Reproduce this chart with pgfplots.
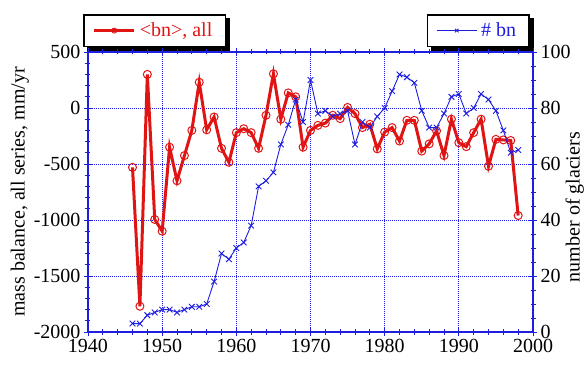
\documentclass[border=0pt]{standalone}
\usepackage{fontspec}
\setmainfont{Liberation Serif}
\usepackage{pgfplots}
\pgfplotsset{compat=1.18}
\pgfdeclarelayer{background}
\pgfsetlayers{background,main}
\definecolor{bnred}{RGB}{225,20,20}
\definecolor{bnblue}{RGB}{30,30,225}

% annual mean mass balance <bn> over all series (mm/yr)
\pgfplotstableread{
year bn
1946 -530
1947 -1770
1948 300
1949 -995
1950 -1100
1951 -350
1952 -650
1953 -425
1954 -200
1955 230
1956 -195
1957 -80
1958 -360
1959 -485
1960 -220
1961 -185
1962 -220
1963 -360
1964 -65
1965 305
1966 -100
1967 135
1968 100
1969 -350
1970 -200
1971 -155
1972 -135
1973 -65
1974 -95
1975 5
1976 -50
1977 -175
1978 -145
1979 -365
1980 -215
1981 -175
1982 -295
1983 -110
1984 -110
1985 -385
1986 -320
1987 -205
1988 -425
1989 -100
1990 -310
1991 -345
1992 -220
1993 -100
1994 -520
1995 -280
1996 -285
1997 -290
1998 -960
}\bndata

% number of glaciers with a bn value in each year
\pgfplotstableread{
year n
1946 3
1947 3
1948 6
1949 7
1950 8
1951 8
1952 7
1953 8
1954 9
1955 9
1956 10
1957 18
1958 28
1959 26
1960 30
1961 32
1962 38
1963 52
1964 54
1965 57
1966 67
1967 74
1968 83
1969 75
1970 90
1971 78
1972 79
1973 77
1974 78
1975 79
1976 67
1977 75
1978 73
1979 77
1980 80
1981 86
1982 92
1983 91
1984 89
1985 79
1986 73
1987 73
1988 78
1989 84
1990 85
1991 78
1992 80
1993 85
1994 83
1995 79
1996 72
1997 64
1998 65
}\ndata

\begin{document}
\begin{tikzpicture}
\useasboundingbox (-88bp,-49bp) rectangle (496bp,332bp);
\pgfplotsset{
  common/.style={
    scale only axis, width=445bp, height=280bp,
    xmin=1940, xmax=2000,
    axis line style={bnblue, line width=1.2bp},
    tick style={bnblue, line width=0.9bp},
    major tick length=8bp, minor tick length=5bp,
    tick align=center,
    /pgf/number format/assume math mode=true,
    /pgf/number format/1000 sep={},
    every tick label/.append style={font=\fontsize{20bp}{24bp}\selectfont},
    label style={font=\fontsize{20bp}{24bp}\selectfont},
    legend style={draw=black, line width=1.4bp, fill=white,
      font=\fontsize{20bp}{24bp}\selectfont, inner xsep=9bp, inner ysep=6bp,
      nodes={inner xsep=4bp}},
    legend image code/.code={\draw[mark repeat=2,mark phase=2,mark size=2.5bp,
        every mark/.append style={fill=white, line width=0.9bp}]
      plot coordinates {(0bp,0bp) (20bp,0bp) (40bp,0bp)};},
  }
}
\begin{axis}[common,
  ymin=-2000, ymax=500,
  xtick={1940,1950,...,2000}, minor x tick num=4,
  ytick={-2000,-1500,...,500}, minor y tick num=4,
  ytick pos=left, xticklabel pos=lower,
  grid=major,
  major grid style={bnblue, line width=0.9bp, dash pattern=on 1bp off 1bp},
  ylabel={mass balance, all series, mm/yr},
  ylabel style={at={(rel axis cs:-0.153,0.5)}, anchor=center},
  legend style={name=legbn, at={(rel axis cs:-0.011,1.018)}, anchor=south west},
]
\addplot[bnred, line width=3bp, mark=o, mark size=4bp, mark options={line width=1bp}]
  table[x=year, y=bn] {\bndata};
\addlegendentry{\textcolor{bnred}{<bn>, all}}
\node[anchor=west, font=\fontsize{12bp}{14bp}\selectfont] at (rel axis cs:-0.052,-0.154) {Fig.3.3.a};
\end{axis}
\begin{axis}[common,
  ymin=0, ymax=100,
  axis y line*=right, axis x line=none,
  ytick={0,20,...,100}, minor y tick num=3,
  ylabel={number of glaciers},
  ylabel style={at={(rel axis cs:1.094,0.446)}, anchor=center, rotate=0},
  legend style={name=legn, at={(rel axis cs:0.993,1.018)}, anchor=south east},
]
\addplot[bnblue, line width=0.9bp, mark=x, mark size=4bp, mark options={line width=0.9bp}]
  table[x=year, y=n] {\ndata};
\addlegendentry{\textcolor{bnblue}{\# bn}}
\end{axis}
% solid drop shadows behind both legend boxes
\begin{pgfonlayer}{background}
\fill[black] ([shift={(4bp,-4bp)}]legbn.south west) rectangle ([shift={(4bp,-4bp)}]legbn.north east);
\fill[black] ([shift={(4bp,-4bp)}]legn.south west) rectangle ([shift={(4bp,-4bp)}]legn.north east);
\end{pgfonlayer}
\end{tikzpicture}
\end{document}
